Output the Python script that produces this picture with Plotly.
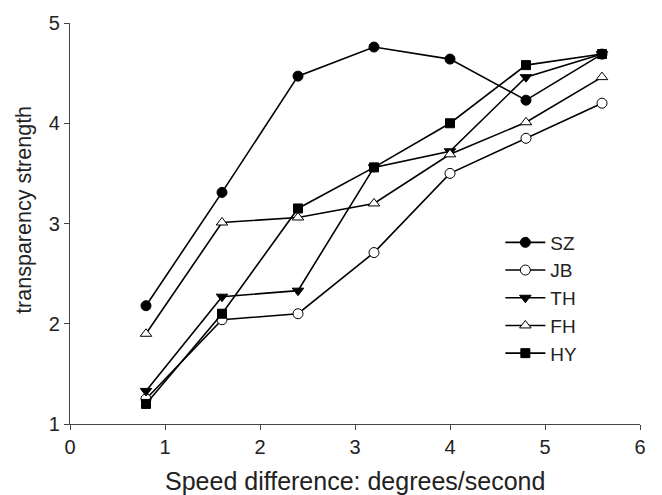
import plotly.graph_objects as go

x_vals = [0.8, 1.6, 2.4, 3.2, 4.0, 4.8, 5.6]
series_names = ["SZ", "JB", "TH", "FH", "HY"]
sz = [2.18, 3.31, 4.47, 4.76, 4.64, 4.23, 4.69]
jb = [1.25, 2.04, 2.10, 2.71, 3.50, 3.85, 4.20]
th = [1.33, 2.27, 2.33, 3.56, 3.72, 4.46, 4.69]
fh = [1.90, 3.01, 3.06, 3.20, 3.69, 4.01, 4.46]
hy = [1.20, 2.10, 3.15, 3.56, 4.00, 4.58, 4.69]
x_ticks = [0, 1, 2, 3, 4, 5, 6]
y_ticks = [1, 2, 3, 4, 5]

values = [sz, jb, th, fh, hy]
symbols = ["circle", "circle", "triangle-down", "triangle-up", "square"]
fills = ["black", "white", "black", "white", "black"]
sizes = [10, 10, 10, 10, 9]

fig = go.Figure()
for name, ys, sym, fill, s in zip(series_names, values, symbols, fills, sizes):
    fig.add_trace(go.Scatter(
        x=x_vals, y=ys, name=name, mode="lines+markers",
        line=dict(color="black", width=1.6),
        marker=dict(symbol=sym, size=s, color=fill,
                    line=dict(color="black", width=1)),
    ))

axis_font = dict(family="Liberation Sans, Arial, sans-serif", size=20, color="#222")
fig.update_layout(
    width=662, height=495,
    margin=dict(l=70, r=22, t=20, b=71),
    plot_bgcolor="white", paper_bgcolor="white",
    font=dict(family="Liberation Sans, Arial, sans-serif", color="#222"),
    legend=dict(x=0.755, y=0.50, xanchor="left", yanchor="top",
                font=dict(size=19, color="#222"), bgcolor="rgba(0,0,0,0)",
                tracegroupgap=0, itemwidth=40),
    showlegend=True,
    annotations=[
        dict(text="Speed difference: degrees/second", xref="paper", yref="paper",
             x=0.5, y=-0.143, xanchor="center", yanchor="middle", showarrow=False,
             font=dict(size=25, color="#222")),
        dict(text="transparency strength", xref="paper", yref="paper",
             x=-0.08, y=0.535, xanchor="center", yanchor="middle", showarrow=False,
             textangle=-90, font=dict(size=21.5, color="#222")),
    ],
)
fig.update_xaxes(range=[0, 6], tickvals=x_ticks, showgrid=False, zeroline=False,
                 showline=True, linecolor="#444", linewidth=1.2,
                 ticks="outside", ticklen=5, tickcolor="#444",
                 tickfont=axis_font)
fig.update_yaxes(range=[1, 5], tickvals=y_ticks, showgrid=False, zeroline=False,
                 showline=True, linecolor="#444", linewidth=1.2,
                 ticks="outside", ticklen=5, tickcolor="#444",
                 tickfont=axis_font)

fig.write_html("out.html")
